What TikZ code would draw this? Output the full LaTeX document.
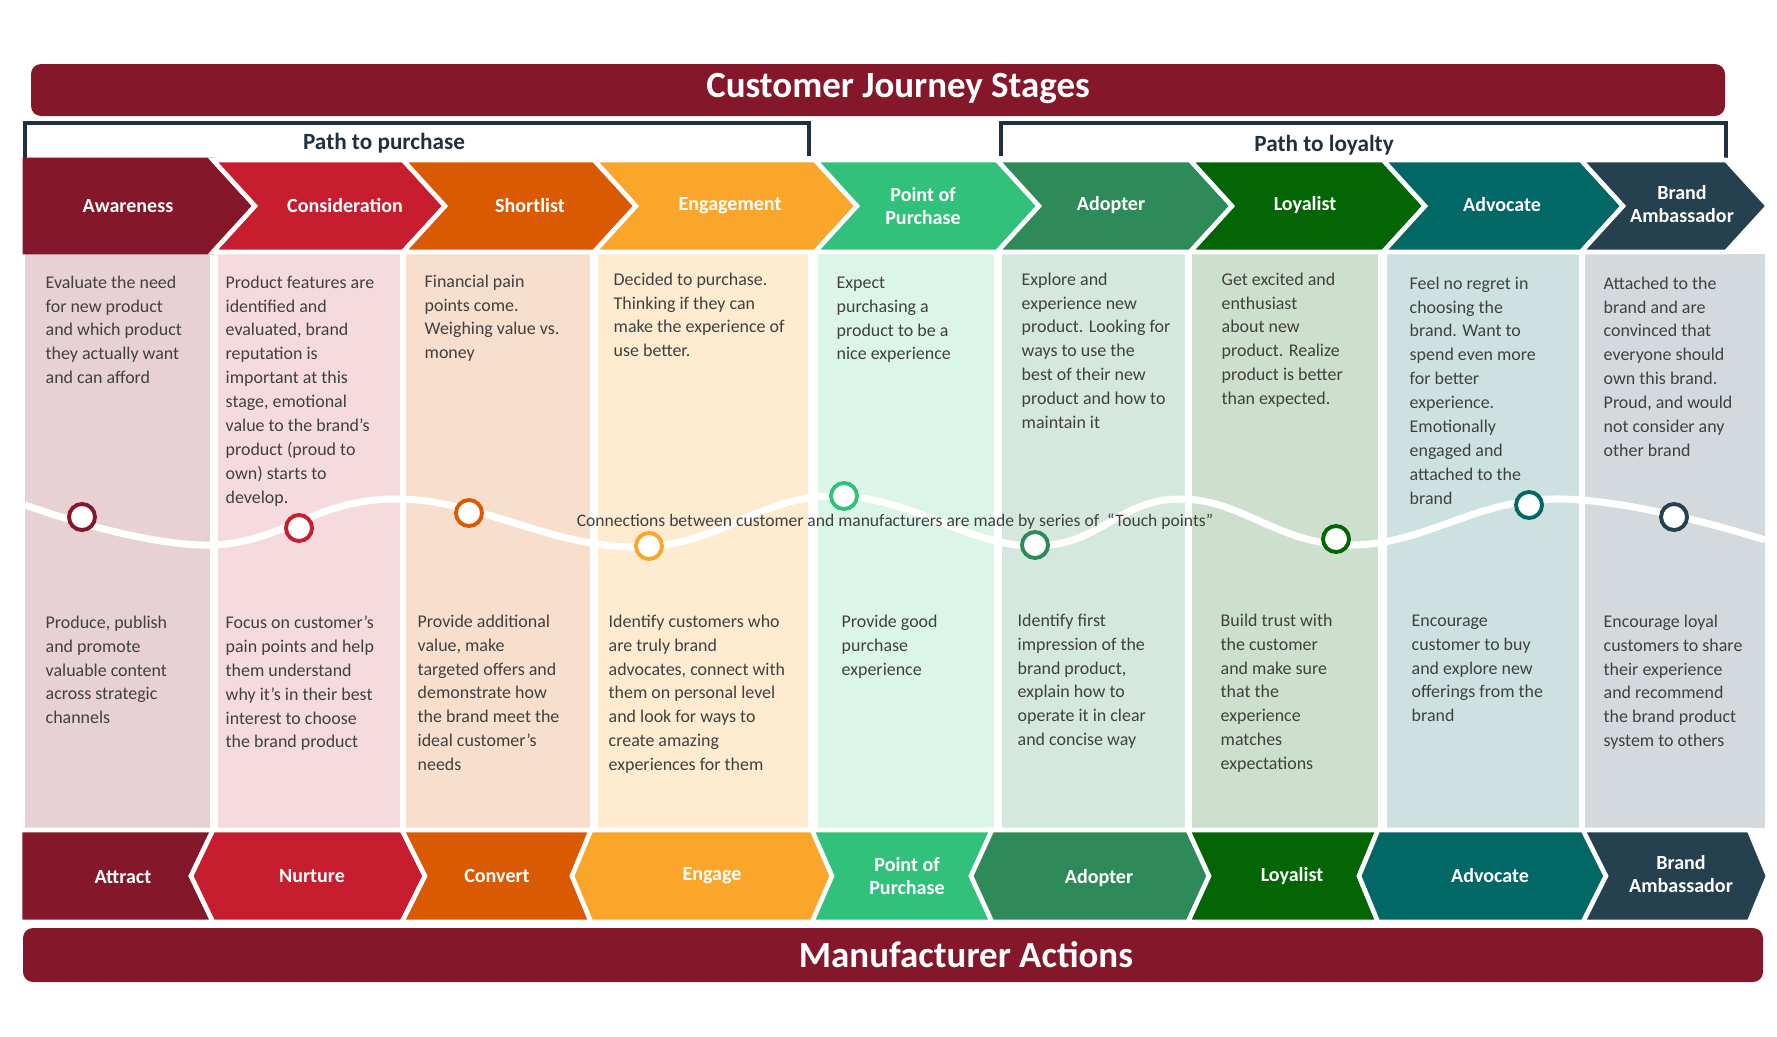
\documentclass[tikz,border=0pt]{standalone}
\usepackage{fontspec}
\setmainfont{Carlito}
\begin{document}
\definecolor{c1}{HTML}{85172A}
\definecolor{c2}{HTML}{C71E2F}
\definecolor{c3}{HTML}{DA5A04}
\definecolor{c4}{HTML}{F9A62B}
\definecolor{c5}{HTML}{31C17B}
\definecolor{c6}{HTML}{2E8B59}
\definecolor{c7}{HTML}{036503}
\definecolor{c8}{HTML}{026866}
\definecolor{c9}{HTML}{25404E}
\definecolor{navy}{HTML}{1F3040}
\definecolor{txt}{HTML}{404040}
\begin{tikzpicture}[x=0.01cm,y=-0.01cm,
  shp/.style={draw=white,line width=1.3pt,line join=miter},
  lab/.style={text=white,font=\bfseries\fontsize{5.7}{6.6}\selectfont,align=center},
  body/.style={anchor=north west,text=txt,font=\fontsize{5.1}{6.8}\selectfont,align=left,inner sep=0pt},
  ban/.style={text=white,font=\bfseries\fontsize{10.5}{12}\selectfont},
  pth/.style={text=navy,font=\bfseries\fontsize{6.6}{8}\selectfont},
  tp/.style={circle,draw,line width=1.1pt,fill=white,minimum size=0.26cm,inner sep=0pt}]
\useasboundingbox (0,0) rectangle (1777,1036);
% banners
\fill[c1,rounded corners=0.1cm] (31,64) rectangle (1725,116);
\node[ban] (t1) at (898,89) {Customer Journey Stages};
\fill[c1,rounded corners=0.1cm] (23,928) rectangle (1763,982);
\node[ban] (t2) at (966,955) {Manufacturer Actions};
% brackets
\draw[navy,line width=1.1pt] (25,159) -- (25,123) -- (809,123) -- (809,156);
\draw[navy,line width=1.1pt] (1001,156) -- (1001,123) -- (1726,123) -- (1726,159);
\node[pth] (p1) at (384,143) {Path to purchase};
\node[pth] (p2) at (1324,145) {Path to loyalty};
% body columns
\fill[c1!20] (25,254) rectangle (210,828);
\fill[c2!16] (218,254) rectangle (400,828);
\fill[c3!20] (406,254) rectangle (590,828);
\fill[c4!22] (598,254) rectangle (808,828);
\fill[c5!17] (818,254) rectangle (994,828);
\fill[c6!20] (1002,254) rectangle (1185,828);
\fill[c7!20] (1192,254) rectangle (1378,828);
\fill[c8!20] (1387,254) rectangle (1579,828);
\fill[c9!20] (1585,254) rectangle (1765,828);
% top chevrons
\def\T{160}\def\B{252}\def\M{206}
\fill[shp,c1] (25,\T) -- (213,\T) -- (255,\M) -- (213,\B) -- (25,\B) -- cycle;
\draw[white,line width=1.3pt] (213,\T) -- (255,\M) -- (213,\B);
\foreach \a/\b/\c in {213/403/c2,403/594/c3,594/815/c4,815/997/c5,997/1190/c6,1190/1383/c7,1383/1581/c8,1581/1726/c9}{
  \filldraw[shp,fill=\c] (\a,\T) -- (\b,\T) -- ({\b+42},\M) -- (\b,\B) -- (\a,\B) -- ({\a+42},\M) -- cycle;}
\node[lab] (s1) at (128,206) {Awareness};
\node[lab] (s2) at (345,206) {Consideration};
\node[lab] (s3) at (530,206) {Shortlist};
\node[lab] (s4) at (730,206) {Engagement};
\node[lab] (s5) at (923,206) {Point of\\Purchase};
\node[lab] (s6) at (1111,205) {Adopter};
\node[lab] (s7) at (1305,205) {Loyalist};
\node[lab] (s8) at (1502,205) {Advocate};
\node[lab] (s9) at (1682,204) {Brand\\Ambassador};
% bottom shapes
\def\T{830}\def\B{922}\def\M{876}
\filldraw[shp,fill=c1] (20,\T) -- (213,\T) -- (191,\M) -- (213,\B) -- (20,\B) -- cycle;
\filldraw[shp,fill=c2] (213,\T) -- (402,\T) -- (425,\M) -- (402,\B) -- (213,\B) -- (191,\M) -- cycle;
\filldraw[shp,fill=c3] (402,\T) -- (591,\T) -- (572,\M) -- (591,\B) -- (402,\B) -- (425,\M) -- cycle;
\filldraw[shp,fill=c4] (591,\T) -- (812,\T) -- (832,\M) -- (812,\B) -- (591,\B) -- (572,\M) -- cycle;
\filldraw[shp,fill=c5] (812,\T) -- (992,\T) -- (971,\M) -- (992,\B) -- (812,\B) -- (832,\M) -- cycle;
\filldraw[shp,fill=c6] (992,\T) -- (1188,\T) -- (1209,\M) -- (1188,\B) -- (992,\B) -- (971,\M) -- cycle;
\filldraw[shp,fill=c7] (1188,\T) -- (1378,\T) -- (1359,\M) -- (1378,\B) -- (1188,\B) -- (1209,\M) -- cycle;
\filldraw[shp,fill=c8] (1378,\T) -- (1583,\T) -- (1606,\M) -- (1583,\B) -- (1378,\B) -- (1359,\M) -- cycle;
\filldraw[shp,fill=c9] (1583,\T) -- (1749,\T) -- (1768,\M) -- (1749,\B) -- (1583,\B) -- (1606,\M) -- cycle;
\node[lab] (a1) at (123,877) {Attract};
\node[lab] (a2) at (312,876) {Nurture};
\node[lab] (a3) at (497,876) {Convert};
\node[lab] (a4) at (712,876) {Engage};
\node[lab] (a5) at (907,876) {Point of\\Purchase};
\node[lab] (a6) at (1099,878) {Adopter};
\node[lab] (a7) at (1292,876) {Loyalist};
\node[lab] (a8) at (1490,876) {Advocate};
\node[lab] (a9) at (1681,874) {Brand\\Ambassador};
% wave
\draw[white,line width=2pt] plot[smooth,tension=0.7] coordinates {(25,505) (210,545) (397,499) (636,547) (834,496) (1033,546) (1180,499) (1351,545) (1555,499) (1765,540)};
\node[tp,draw=c1] (k1) at (82,517) {};
\node[tp,draw=c2] (k2) at (299,528) {};
\node[tp,draw=c3] (k3) at (469,513) {};
\node[tp,draw=c4] (k4) at (649,546) {};
\node[tp,draw=c5] (k5) at (844,496) {};
\node[tp,draw=c6] (k6) at (1035,545) {};
\node[tp,draw=c7] (k7) at (1336,539) {};
\node[tp,draw=c8] (k8) at (1529,505) {};
\node[tp,draw=c9] (k9) at (1674,517) {};
\node[text=txt,font=\fontsize{5}{6}\selectfont] (conn) at (895,522) {Connections between customer and manufacturers are made by series of \ ``Touch points''};
% top texts
\node[body] (b1) at (45,275) {Evaluate the need\\for new product\\and which product\\they actually want\\and can afford};
\node[body] (b2) at (225,275) {Product features are\\identified and\\evaluated, brand\\reputation is\\important at this\\stage, emotional\\value to the brand’s\\product (proud to\\own) starts to\\develop.};
\node[body] (b3) at (424,274) {Financial pain\\points come.\\Weighing value vs.\\money};
\node[body] (b4) at (613,272) {Decided to purchase.\\Thinking if they can\\make the experience of\\use better.};
\node[body] (b5) at (836,276) {Expect\\purchasing a\\product to be a\\nice experience};
\node[body] (b6) at (1021,272) {Explore and\\experience new\\product. Looking for\\ways to use the\\best of their new\\product and how to\\maintain it};
\node[body] (b7) at (1221,272) {Get excited and\\enthusiast\\about new\\product. Realize\\product is better\\than expected.};
\node[body] (b8) at (1409,276) {Feel no regret in\\choosing the\\brand. Want to\\spend even more\\for better\\experience.\\Emotionally\\engaged and\\attached to the\\brand};
\node[body] (b9) at (1603,276) {Attached to the\\brand and are\\convinced that\\everyone should\\own this brand.\\Proud, and would\\not consider any\\other brand};
% bottom texts
\node[body] (d1) at (45,615) {Produce, publish\\and promote\\valuable content\\across strategic\\channels};
\node[body] (d2) at (225,615) {Focus on customer’s\\pain points and help\\them understand\\why it’s in their best\\interest to choose\\the brand product};
\node[body] (d3) at (417,614) {Provide additional\\value, make\\targeted offers and\\demonstrate how\\the brand meet the\\ideal customer’s\\needs};
\node[body] (d4) at (608,614) {Identify customers who\\are truly brand\\advocates, connect with\\them on personal level\\and look for ways to\\create amazing\\experiences for them};
\node[body] (d5) at (841,614) {Provide good\\purchase\\experience};
\node[body] (d6) at (1017,613) {Identify first\\impression of the\\brand product,\\explain how to\\operate it in clear\\and concise way};
\node[body] (d7) at (1220,613) {Build trust with\\the customer\\and make sure\\that the\\experience\\matches\\expectations};
\node[body] (d8) at (1411,614) {Encourage\\customer to buy\\and explore new\\offerings from the\\brand};
\node[body] (d9) at (1603,614) {Encourage loyal\\customers to share\\their experience\\and recommend\\the brand product\\system to others};
\end{tikzpicture}
\end{document}
